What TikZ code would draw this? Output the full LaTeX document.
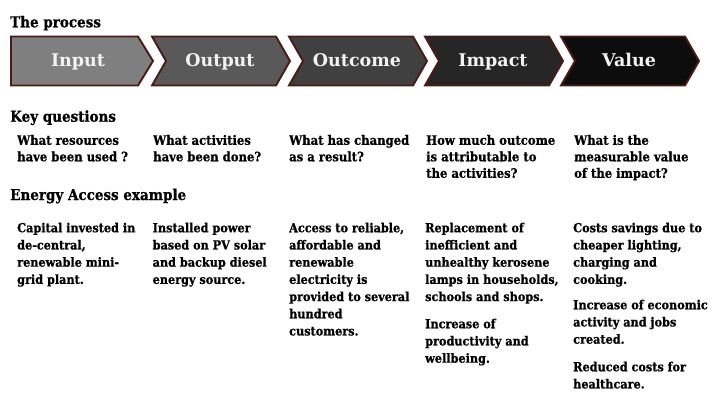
\documentclass[tikz,border=0pt]{standalone}
\usepackage{fontspec}
\setmainfont{DejaVu Serif}[FakeStretch=0.9, BoldFont={DejaVu Serif Bold}, BoldFeatures={FakeBold=0.8}]
\newfontfamily\chevf{DejaVu Serif}[FakeStretch=1.0, BoldFont={DejaVu Serif Bold}]
\definecolor{edge}{HTML}{4A1B16}
\definecolor{cA}{HTML}{7F7F7F}
\definecolor{cB}{HTML}{595959}
\definecolor{cC}{HTML}{404040}
\definecolor{cD}{HTML}{262626}
\definecolor{cE}{HTML}{0D0D0D}
\definecolor{lbl}{HTML}{F2F2F2}
\tikzset{
  chev/.style={draw=edge, line width=1.9pt, line join=miter},
  chevlabel/.style={anchor=base, inner sep=0pt, text=lbl, font=\chevf\bfseries\fontsize{17.5}{20}\selectfont},
  heading/.style={anchor=base west, inner sep=0pt, font=\bfseries\fontsize{15}{17}\selectfont},
  question/.style={anchor=north west, inner sep=0pt, align=left, font=\bfseries\fontsize{12.9}{16.5}\selectfont},
  example/.style={anchor=north west, inner sep=0pt, align=left, font=\bfseries\fontsize{12.5}{17.2}\selectfont}
}
\begin{document}
\begin{tikzpicture}[x=1pt,y=-1pt]
\useasboundingbox (0,0) rectangle (714,392);
% chevrons
\fill[cA] (11,36.5) -- (138,36.5) -- (153,61) -- (138,85.5) -- (11,85.5) -- cycle;
\draw[chev] (11,36.5) -- (138,36.5) -- (153,61) -- (138,85.5) -- (11,85.5) -- cycle;
\foreach \s/\c in {152/cB,289/cC,425/cD,561/cE}{
  \fill[\c] (\s,36.5) -- (\s+124,36.5) -- (\s+138,61) -- (\s+124,85.5) -- (\s,85.5) -- (\s+14,61) -- cycle;
  \draw[chev] (\s,36.5) -- (\s+124,36.5) -- (\s+138,61) -- (\s+124,85.5) -- (\s,85.5) -- (\s+14,61) -- cycle;
}
\node[chevlabel] (lin) at (78,66.7) {Input};
\node[chevlabel] (lout) at (220,66.7) {Output};
\node[chevlabel] (loc) at (357,66.7) {Outcome};
\node[chevlabel] (lim) at (493,66.7) {Impact};
\node[chevlabel] (lval) at (629,66.7) {Value};
% headings
\node[heading] (h1) at (10,27.3) {The process};
\node[heading] (h2) at (10,121.7) {Key questions};
\node[heading] (h3) at (10,200) {Energy Access example};
% questions
\node[question] (q1) at (17,133) {\strut What resources\\have been used ?};
\node[question] (q2) at (153,133) {\strut What activities\\have been done?};
\node[question] (q3) at (289,133) {\strut What has changed\\as a result?};
\node[question] (q4) at (426,133) {\strut How much outcome\\is attributable to\\the activities?};
\node[question] (q5) at (574,133) {\strut What is the\\measurable value\\of the impact?};
% examples
\node[example] (e1) at (17,220) {\strut Capital invested in\\de-central,\\renewable mini-\\grid plant.};
\node[example] (e2) at (152.5,220) {\strut Installed power\\based on PV solar\\and backup diesel\\energy source.};
\node[example] (e3) at (289,220) {\strut Access to reliable,\\affordable and\\renewable\\electricity is\\provided to several\\hundred\\customers.};
\node[example] (e4a) at (425,220) {\strut Replacement of\\inefficient and\\unhealthy kerosene\\lamps in households,\\schools and shops.};
\node[example] (e4b) at (425,316) {\strut Increase of\\productivity and\\wellbeing.};
\node[example] (e5a) at (573,220) {\strut Costs savings due to\\cheaper lighting,\\charging and\\cooking.};
\node[example] (e5b) at (573,297) {\strut Increase of economic\\activity and jobs\\created.};
\node[example] (e5c) at (573,359) {\strut Reduced costs for\\healthcare.};
\end{tikzpicture}
\end{document}
